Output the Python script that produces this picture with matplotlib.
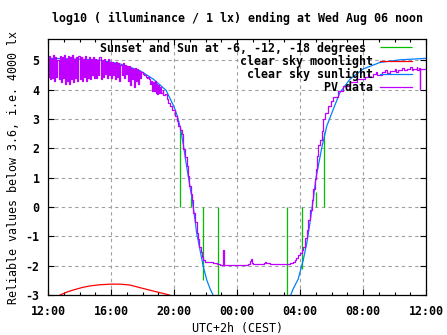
import matplotlib
matplotlib.use('Agg')
import matplotlib.pyplot as plt
import numpy as np
from matplotlib.ticker import MultipleLocator

plt.rcParams['font.family'] = ['DejaVu Sans Mono']
plt.rcParams['font.weight'] = 'bold'
plt.rcParams['font.size'] = 8.4
plt.rcParams['axes.titlesize'] = 8.4
plt.rcParams['axes.titleweight'] = 'bold'
plt.rcParams['axes.unicode_minus'] = False

# hours since midnight of the first day (12 = noon, 36 = next noon)
tick_hours = [12, 16, 20, 24, 28, 32, 36]
tick_labels = ["12:00", "16:00", "20:00", "00:00", "04:00", "08:00", "12:00"]

# sunset / twilight markers (sun at 0, -6, -12, -18 degrees, evening and morning)
sun_hours = [20.38, 21.06, 21.86, 22.81, 27.19, 28.15, 29.0, 29.52]
sun_values = [2.71, 0.35, -2.5, -3.5, -3.5, -2.1, 0.52, 2.57]

moon_hours = [12.5, 12.76, 13.2, 13.6, 14.2, 14.67, 15.3, 16.0, 16.6, 17.2, 17.84, 18.5, 19.1, 19.7, 20.0]
moon_values = [-3.1, -3.0, -2.9, -2.83, -2.74, -2.69, -2.65, -2.63, -2.63, -2.66, -2.75, -2.84, -2.92, -3.0, -3.06]

sun_clear_hours = [12.0, 13.0, 14.0, 15.3, 16.57, 17.84, 18.69, 19.5, 19.75, 20.0, 20.2, 20.4, 20.6,
                   20.8, 21.0, 21.12, 21.3, 21.44, 21.65, 21.86, 22.08, 22.3, 22.48, 22.8,
                   27.2, 27.41, 27.56, 27.89, 28.21, 28.43, 28.63, 28.84, 29.0, 29.38, 29.7,
                   30.11, 30.54, 31.17, 32.02, 33.08, 34.35, 36.0]
sun_clear_values = [5.07, 5.06, 5.04, 5.01, 4.88, 4.65, 4.36, 3.98, 3.7, 3.42, 3.12, 2.72, 2.1,
                    1.39, 0.75, 0.37, -0.3, -0.89, -1.46, -2.03, -2.49, -2.8, -3.0, -3.4,
                    -3.4, -3.0, -2.8, -2.45, -1.8, -1.23, -0.55, 0.25, 0.94, 2.02, 2.76,
                    3.33, 3.91, 4.36, 4.71, 4.93, 5.02, 5.07]

# PV data, afternoon part sampled every 4 minutes from 12:00
pv_afternoon = [4.45, 5.15, 4.35, 5.05, 4.4, 5.2, 4.3, 5.1, 4.45, 5.0, 4.35, 5.15, 4.25, 5.1, 4.4,
                5.2, 4.2, 5.05, 4.3, 5.15, 4.2, 5.1, 4.35, 5.2, 4.25, 5.05, 4.4, 5.1, 4.3, 5.15,
                4.35, 5.1, 4.3, 5.05, 4.45, 5.15, 4.3, 5.0, 4.4, 5.1, 4.35, 5.05, 4.5, 5.1, 4.4,
                5.05, 4.4, 5.0, 4.5, 5.1, 4.35, 5.0, 4.45, 5.05, 4.55, 4.95, 4.4, 5.05, 4.5, 4.95,
                4.4, 4.95, 4.5, 4.9, 4.35, 4.95, 4.45, 4.9, 4.3, 4.85, 4.5, 4.9, 4.4, 4.85, 4.55,
                4.8, 4.3, 4.8, 4.15, 4.75, 4.35, 4.7, 4.1, 4.75, 4.3, 4.7, 4.2, 4.65, 4.4, 4.6,
                4.55, 4.5, 4.5, 4.45, 4.4, 4.45, 4.35, 4.2, 4.3, 3.95]
pv_tail_hours = [18.67, 18.72, 18.78, 18.83, 18.9, 18.95, 19.0, 19.07, 19.13, 19.2, 19.27, 19.33, 19.4,
                 19.53, 19.65, 19.75, 19.9, 20.06, 20.17, 20.27, 20.38, 20.49, 20.59, 20.7, 20.8,
                 20.88, 20.97, 21.05, 21.12, 21.23, 21.33, 21.44, 21.52, 21.61, 21.69, 21.76, 21.85,
                 21.97, 22.1, 22.29, 22.45, 22.6, 22.75, 22.92, 23.08, 23.12, 23.15, 23.4, 23.56,
                 23.8, 24.0, 24.3, 24.5, 24.72, 24.8, 24.87, 24.93, 25.04, 25.3, 25.6, 25.72, 25.78,
                 25.85, 26.1, 26.4, 26.8, 27.15, 27.37, 27.48, 27.57, 27.67, 27.75, 27.85, 28.0,
                 28.1, 28.21, 28.32, 28.42, 28.53, 28.63, 28.74, 28.84, 28.95, 29.02, 29.1, 29.16,
                 29.27, 29.38, 29.48, 29.6, 29.8, 29.95, 30.11, 30.4, 30.75, 31.2, 31.6, 32.1, 32.3,
                 32.4, 32.65, 32.8, 32.9, 33.2, 33.4, 33.5, 33.71, 34.0, 34.1, 34.2, 34.5, 34.6,
                 34.78, 35.0, 35.1, 35.2, 35.4, 35.45, 35.55, 35.6, 35.63, 35.8, 36.0]
pv_tail_values = [4.25, 3.95, 4.3, 3.9, 4.2, 3.85, 4.15, 3.9, 4.1, 3.88, 4.0, 3.82, 3.85,
                  3.68, 3.55, 3.45, 3.3, 3.12, 2.95, 2.76, 2.62, 2.5, 1.97, 1.7, 1.39,
                  1.05, 0.71, 0.45, 0.25, -0.2, -0.5, -0.89, -1.1, -1.35, -1.55, -1.69, -1.8,
                  -1.86, -1.88, -1.89, -1.92, -1.91, -1.95, -1.96, -1.97, -1.46, -1.97, -1.97, -1.98,
                  -1.97, -1.97, -1.97, -1.96, -1.95, -1.85, -1.78, -1.9, -1.93, -1.94, -1.93, -1.9, -1.88,
                  -1.91, -1.94, -1.94, -1.95, -1.95, -1.92, -1.9, -1.86, -1.8, -1.74, -1.65, -1.57,
                  -1.45, -1.35, -1.06, -0.77, -0.43, -0.09, 0.25, 0.6, 0.94, 1.3, 1.75, 2.1,
                  2.3, 2.6, 3.0, 3.2, 3.45, 3.6, 3.74, 3.95, 4.13, 4.28, 4.36, 4.45, 4.52,
                  4.44, 4.53, 4.6, 4.5, 4.6, 4.67, 4.58, 4.65, 4.72, 4.62, 4.68, 4.75, 4.66,
                  4.71, 4.76, 4.68, 4.72, 4.77, 4.68, 4.73, 4.04, 4.72, 4.7, 4.71]

pv_hours = np.concatenate([12 + np.arange(len(pv_afternoon)) / 15.0, pv_tail_hours])
pv_values = np.concatenate([pv_afternoon, pv_tail_values])

fig = plt.figure(figsize=(4.47, 3.35), dpi=100)
ax = fig.add_axes([48 / 447, 40 / 335, 378 / 447, 256 / 335])

lw = 0.9
ax.vlines(sun_hours, 0, sun_values, color='#00c000', lw=lw,
          label="Sunset and Sun at -6, -12, -18 degrees ")
ax.plot(moon_hours, moon_values, color='#ff0000', lw=lw, label="clear sky moonlight")
ax.plot(sun_clear_hours, sun_clear_values, color='#0080ff', lw=lw, label="clear sky sunlight")
ax.plot(pv_hours, pv_values, color='#c000ff', lw=lw, drawstyle='steps-post', label="PV data")

ax.set_xlim(12, 36)
ax.set_ylim(-3, 5.73)
ax.set_xticks(tick_hours)
ax.set_xticklabels(tick_labels)
ax.xaxis.set_minor_locator(MultipleLocator(1))
ax.set_yticks(range(-3, 6))

ax.tick_params(which='both', direction='in', top=True, right=True, colors='black')
ax.tick_params(which='major', length=4.5, width=0.8, pad=7)
ax.tick_params(which='minor', length=2.5, width=0.8)
ax.tick_params(axis='y', pad=6)
for s in ax.spines.values():
    s.set_linewidth(0.9)

ax.grid(True, which='major', color='#a0a0a0', linestyle=(0, (3, 3)), linewidth=0.8)

ax.set_title("log10 ( illuminance / 1 lx) ending at Wed Aug 06 noon", pad=12)
ax.set_xlabel("UTC+2h (CEST)", labelpad=3)
ax.set_ylabel("Reliable values below 3.6, i.e. 4000 lx", labelpad=4)

leg = ax.legend(loc='upper right', bbox_to_anchor=(0.963, 0.99), frameon=False,
                markerfirst=False, handlelength=2.75, handletextpad=0.6,
                borderpad=0, borderaxespad=0, labelspacing=0.0)

plt.savefig('out.png', dpi=100)
plt.close()
